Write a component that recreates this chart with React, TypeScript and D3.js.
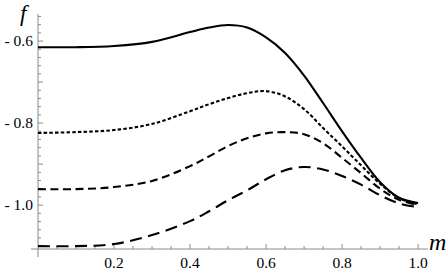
import React from 'react';
import * as d3 from 'd3';

const mValues = [0, 0.1, 0.2, 0.3, 0.4, 0.45, 0.5, 0.55, 0.6, 0.65, 0.7, 0.75, 0.8, 0.85, 0.9, 0.95, 1.0];

const solid = [-0.615, -0.615, -0.612, -0.602, -0.578, -0.567, -0.561, -0.567, -0.591, -0.629, -0.684, -0.751, -0.820, -0.885, -0.944, -0.982, -0.995];
const shortDash = [-0.824, -0.822, -0.817, -0.802, -0.771, -0.754, -0.739, -0.727, -0.722, -0.735, -0.766, -0.812, -0.857, -0.903, -0.948, -0.983, -0.998];
const midDash = [-0.961, -0.961, -0.956, -0.941, -0.905, -0.881, -0.856, -0.837, -0.825, -0.822, -0.827, -0.849, -0.885, -0.922, -0.960, -0.987, -1.0];
const longDash = [-1.100, -1.100, -1.095, -1.073, -1.039, -1.015, -0.988, -0.964, -0.937, -0.915, -0.907, -0.913, -0.929, -0.950, -0.976, -0.996, -1.005];

const series = [
  {name: 'a', values: solid, dash: null},
  {name: 'b', values: shortDash, dash: '3.5,2.2'},
  {name: 'c', values: midDash, dash: '8,4.5'},
  {name: 'd', values: longDash, dash: '12,6.5'}
];

const xLabels = [0.2, 0.4, 0.6, 0.8, 1.0];
const yLabels = [-0.6, -0.8, -1.0];

const width = 448;
const height = 271;

export default function App() {
  const xScale = d3.scaleLinear().domain([0, 1.026]).range([38, 428]);
  const yScale = d3.scaleLinear().domain([-0.534, -1.107]).range([14, 249]);

  const x0 = xScale(0);
  const yBase = yScale(-1.107);

  const line = d3.line<number>()
    .x((_, i) => xScale(mValues[i]))
    .y((d) => yScale(d))
    .curve(d3.curveCatmullRom.alpha(0.5));

  // ticks like mathematica: minor + major pointing inward
  const xMinor = d3.range(1, 21).map((i) => i * 0.05);
  const yMinor = d3.range(0, 29).map((i) => -0.54 - i * 0.02).filter((v) => v >= -1.1);

  const axisColor = '#8a8a8a';
  const fontStyle = {fontFamily: "'Liberation Serif', 'Times New Roman', Times, serif"};

  return (
    <svg width={width} height={height} style={{position: 'absolute', left: 0, top: 0, background: '#fff'}}>
      {/* Axes */}
      <line x1={x0} x2={x0} y1={14} y2={257} stroke={axisColor} strokeWidth={1} />
      <line x1={31} x2={428} y1={yBase} y2={yBase} stroke={axisColor} strokeWidth={1} />

      {xMinor.map((v) => {
        const major = Math.round(v * 20) % 4 === 0;
        return (
          <line key={'xt' + v} x1={xScale(v)} x2={xScale(v)} y1={yBase} y2={yBase - (major ? 5 : 3)}
            stroke={axisColor} strokeWidth={1} />
        );
      })}

      {yMinor.map((v) => {
        const major = Math.abs(v * 10 - Math.round(v * 10)) < 1e-6;
        return (
          <line key={'yt' + v} x1={x0} x2={x0 + (major ? 5 : 3)} y1={yScale(v)} y2={yScale(v)}
            stroke={axisColor} strokeWidth={1} />
        );
      })}

      {xLabels.map((v) => (
        <text key={'xl' + v} x={xScale(v)} y={268} textAnchor="middle" style={fontStyle} fontSize={15.5}>
          {v.toFixed(1)}
        </text>
      ))}

      {yLabels.map((v) => (
        <text key={'yl' + v} x={33} y={yScale(v) + 5} textAnchor="end" style={fontStyle} fontSize={15.5}>
          {'- ' + Math.abs(v).toFixed(1)}
        </text>
      ))}

      <text x={20} y={21} style={fontStyle} fontStyle="italic" fontSize={23}>f</text>
      <text x={429} y={250} style={fontStyle} fontStyle="italic" fontSize={24}>m</text>

      {/* Curves */}
      {series.map((s) => (
        <path key={s.name} d={line(s.values) || ''} fill="none" stroke="#000"
          strokeWidth={2.1} strokeDasharray={s.dash || undefined} />
      ))}
    </svg>
  );
}
